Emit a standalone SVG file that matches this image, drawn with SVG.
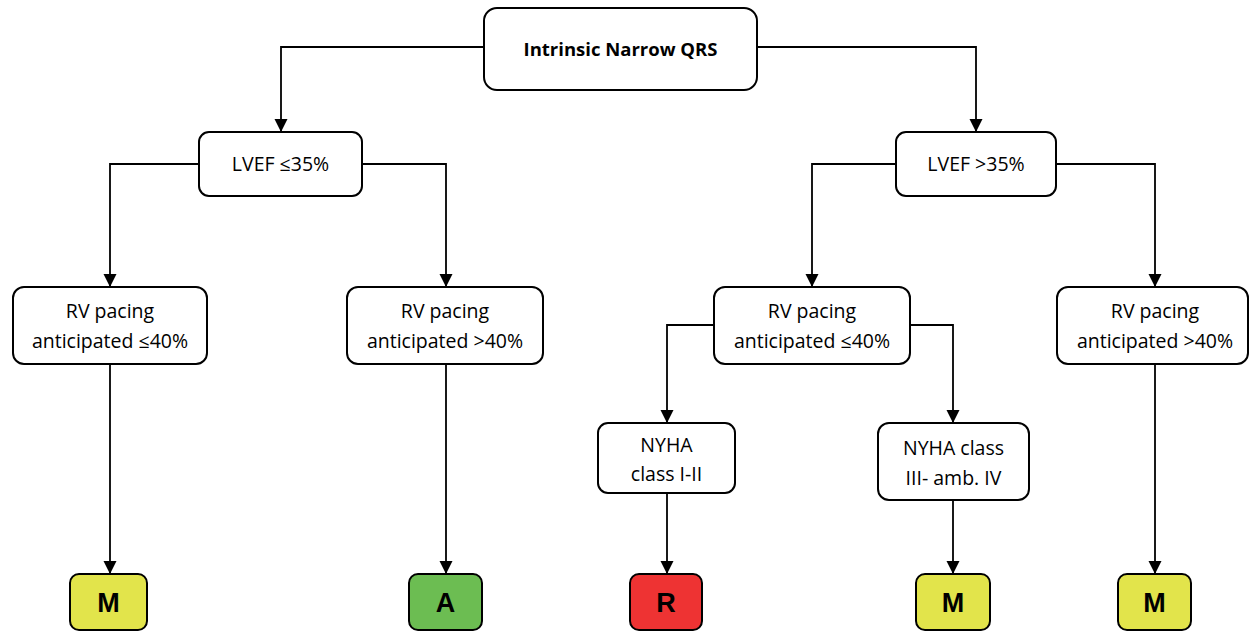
<svg xmlns="http://www.w3.org/2000/svg" width="1250" height="633" viewBox="0 0 1250 633">
<style>
.box{fill:#fff;stroke:#000;stroke-width:2}
.t{font-family:"Open Sans","Liberation Sans",sans-serif;font-size:19.5px;fill:#000;text-anchor:middle}
.b{font-weight:bold;font-size:18.5px}
.big{font-family:"Liberation Sans",sans-serif;font-size:27px;font-weight:bold;text-anchor:middle}
.c{fill:none;stroke:#000;stroke-width:1.8}
</style>
<defs>
<marker id="ah" markerWidth="13" markerHeight="14" refX="12" refY="6" orient="auto" markerUnits="userSpaceOnUse" viewBox="0 0 12 12">
<path d="M0,0 L12,6 L0,12 z" fill="#000"/>
</marker>
</defs>
<g id="connectors">
<path class="c" d="M484,47 H281 V132" marker-end="url(#ah)"/>
<path class="c" d="M757,47 H976 V132" marker-end="url(#ah)"/>
<path class="c" d="M199,164 H110 V287" marker-end="url(#ah)"/>
<path class="c" d="M362,164 H446 V287" marker-end="url(#ah)"/>
<path class="c" d="M896,164 H812 V287" marker-end="url(#ah)"/>
<path class="c" d="M1056,164 H1155 V287" marker-end="url(#ah)"/>
<path class="c" d="M714,325 H667 V423" marker-end="url(#ah)"/>
<path class="c" d="M910,325 H953 V423" marker-end="url(#ah)"/>
<path class="c" d="M110,364 V574" marker-end="url(#ah)"/>
<path class="c" d="M446,364 V574" marker-end="url(#ah)"/>
<path class="c" d="M667,493 V574" marker-end="url(#ah)"/>
<path class="c" d="M953,500 V574" marker-end="url(#ah)"/>
<path class="c" d="M1155,364 V574" marker-end="url(#ah)"/>
</g>
<g id="root"><rect class="box" x="484" y="8" width="273" height="82" rx="13"/><text class="t b" x="620.5" y="56">Intrinsic Narrow QRS</text></g>
<g id="lvef-low"><rect class="box" x="199" y="132" width="163" height="64" rx="10"/><text class="t" x="280.5" y="171">LVEF ≤35%</text></g>
<g id="lvef-high"><rect class="box" x="896" y="132" width="160" height="64" rx="10"/><text class="t" x="976" y="171">LVEF &gt;35%</text></g>
<g id="rv1"><rect class="box" x="13" y="287" width="194" height="77" rx="11"/><text class="t" x="110" y="318">RV pacing</text><text class="t" x="110" y="348">anticipated ≤40%</text></g>
<g id="rv2"><rect class="box" x="347" y="287" width="196" height="77" rx="11"/><text class="t" x="445" y="318">RV pacing</text><text class="t" x="445" y="348">anticipated &gt;40%</text></g>
<g id="rv3"><rect class="box" x="714" y="287" width="196" height="77" rx="11"/><text class="t" x="812" y="318">RV pacing</text><text class="t" x="812" y="348">anticipated ≤40%</text></g>
<g id="rv4"><rect class="box" x="1057" y="287" width="191" height="77" rx="11"/><text class="t" x="1155" y="318">RV pacing</text><text class="t" x="1155" y="348">anticipated &gt;40%</text></g>
<g id="nyha12"><rect class="box" x="598" y="423" width="137" height="70" rx="10"/><text class="t" x="666.5" y="452">NYHA</text><text class="t" x="666.5" y="481">class I-II</text></g>
<g id="nyha34"><rect class="box" x="878" y="423" width="151" height="77" rx="11"/><text class="t" x="953.5" y="455">NYHA class</text><text class="t" x="953.5" y="485">III- amb. IV</text></g>
<g id="m1"><rect x="70" y="574" width="77" height="56" rx="9" fill="#E2E44B" stroke="#000" stroke-width="2"/><text class="big" x="108.5" y="612">M</text></g>
<g id="a"><rect x="409" y="574" width="73" height="56" rx="9" fill="#6CBD52" stroke="#000" stroke-width="2"/><text class="big" x="445.5" y="612">A</text></g>
<g id="r"><rect x="630" y="574" width="72" height="56" rx="9" fill="#EE3333" stroke="#000" stroke-width="2"/><text class="big" x="666" y="612">R</text></g>
<g id="m2"><rect x="916" y="574" width="74" height="56" rx="9" fill="#E2E44B" stroke="#000" stroke-width="2"/><text class="big" x="953" y="612">M</text></g>
<g id="m3"><rect x="1118" y="574" width="73" height="56" rx="9" fill="#E2E44B" stroke="#000" stroke-width="2"/><text class="big" x="1154.5" y="612">M</text></g>
</svg>
